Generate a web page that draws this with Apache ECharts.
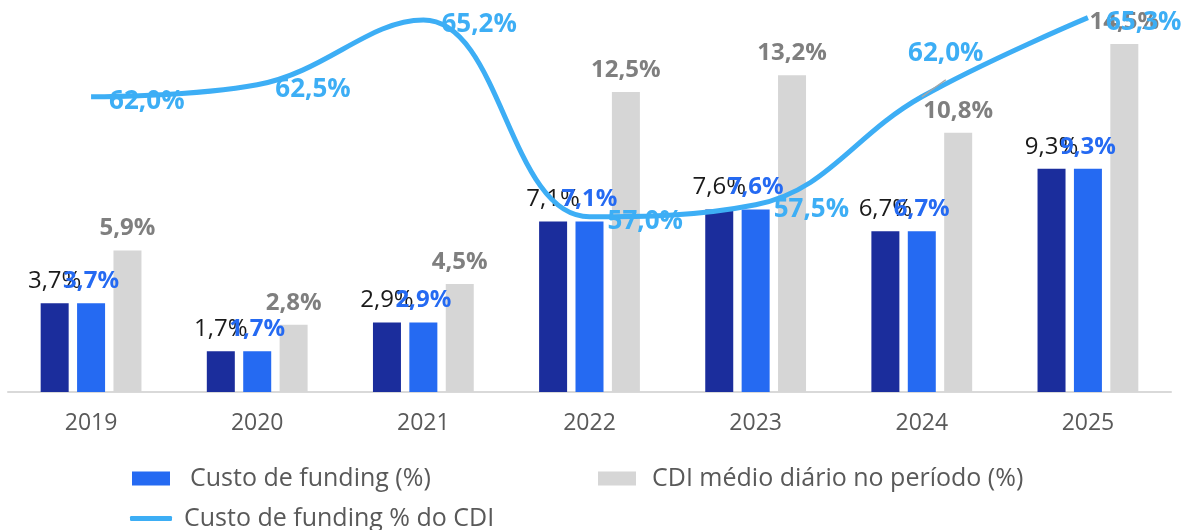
<!DOCTYPE html>
<html>
<head>
<meta charset="utf-8">
<script src="https://cdn.jsdelivr.net/npm/echarts@6/dist/echarts.min.js"></script>
<style>
html,body{margin:0;padding:0;background:#fff;}
#chart{width:1182px;height:530px;}
</style>
</head>
<body>
<div id="chart"></div>
<script>
const categories = ['2019', '2020', '2021', '2022', '2023', '2024', '2025'];
const fundingDark = [3.7, 1.7, 2.9, 7.1, 7.6, 6.7, 9.3];
const fundingBlue = [3.7, 1.7, 2.9, 7.1, 7.6, 6.7, 9.3];
const cdiMedio = [5.9, 2.8, 4.5, 12.5, 13.2, 10.8, 14.5];
const fundingPctCdi = [62.0, 62.5, 65.2, 57.0, 57.5, 62.0, 65.3];

const FONT = '"Open Sans", sans-serif';
const fmt = p => p.value.toFixed(1).replace('.', ',') + '%';

const chart = echarts.init(document.getElementById('chart'));

const lineData = fundingPctCdi.map((v, i) => {
  if (i === 5) {
    return {
      value: v,
      label: { position: 'top', offset: [24, -12] },
      labelLine: { show: true, lineStyle: { color: '#a6a6a6', width: 1.5 } }
    };
  }
  return v;
});

chart.setOption({
  animation: false,
  backgroundColor: '#ffffff',
  textStyle: { fontFamily: FONT },
  grid: { left: 8, right: 11, top: 8, bottom: 138, containLabel: false },
  legend: [
    {
      left: 132, top: 466, padding: 0,
      itemWidth: 38, itemHeight: 14, icon: 'rect',
      data: ['Custo de funding (%)'],
      textStyle: { fontFamily: FONT, fontSize: 25, color: '#595959', padding: [0, 0, 0, 15] }
    },
    {
      left: 598, top: 466, padding: 0,
      itemWidth: 38, itemHeight: 14, icon: 'rect',
      data: ['CDI médio diário no período (%)'],
      textStyle: { fontFamily: FONT, fontSize: 25, color: '#595959', padding: [0, 0, 0, 11] }
    },
    {
      left: 130, top: 506, padding: 0,
      itemWidth: 42, itemHeight: 5, icon: 'roundRect',
      data: ['Custo de funding % do CDI'],
      textStyle: { fontFamily: FONT, fontSize: 25, color: '#595959', padding: [0, 0, 0, 7] }
    }
  ],
  xAxis: {
    type: 'category',
    data: categories,
    axisLine: { lineStyle: { color: '#d9d9d9', width: 2 } },
    axisTick: { show: false },
    axisLabel: { fontFamily: FONT, fontSize: 23, color: '#595959', margin: 20 }
  },
  yAxis: [
    { type: 'value', min: 0, max: 16, show: false, splitLine: { show: false } },
    { type: 'value', min: 49.7, max: 65.7, show: false, splitLine: { show: false } }
  ],
  series: [
    {
      name: 'Custo de funding',
      type: 'bar',
      data: fundingDark,
      barWidth: 28,
      barGap: '30%',
      itemStyle: { color: '#1b2d9c' },
      label: { show: true, position: 'top', distance: 10, formatter: fmt,
        fontFamily: FONT, fontSize: 24, color: '#1a1a1a', fontWeight: 'normal' }
    },
    {
      name: 'Custo de funding (%)',
      type: 'bar',
      data: fundingBlue,
      barWidth: 28,
      barGap: '30%',
      itemStyle: { color: '#256af2' },
      label: { show: true, position: 'top', distance: 10, formatter: fmt,
        fontFamily: FONT, fontSize: 24, color: '#256af2', fontWeight: 'bold' }
    },
    {
      name: 'CDI médio diário no período (%)',
      type: 'bar',
      data: cdiMedio,
      barWidth: 28,
      barGap: '30%',
      itemStyle: { color: '#d6d6d6' },
      label: { show: true, position: 'top', distance: 10, formatter: fmt,
        fontFamily: FONT, fontSize: 24, color: '#7f7f7f', fontWeight: 'bold' }
    },
    {
      name: 'Custo de funding % do CDI',
      type: 'line',
      yAxisIndex: 1,
      data: lineData,
      smooth: 0.4,
      showSymbol: true,
      symbol: 'circle',
      symbolSize: 0.1,
      z: 5,
      lineStyle: { color: '#3daef5', width: 5 },
      itemStyle: { color: '#3daef5' },
      label: { show: true, position: 'right', distance: 18, offset: [0, 5], formatter: fmt,
        fontFamily: FONT, fontSize: 26, color: '#3daef5', fontWeight: 'bold' }
    }
  ]
});
</script>
</body>
</html>
